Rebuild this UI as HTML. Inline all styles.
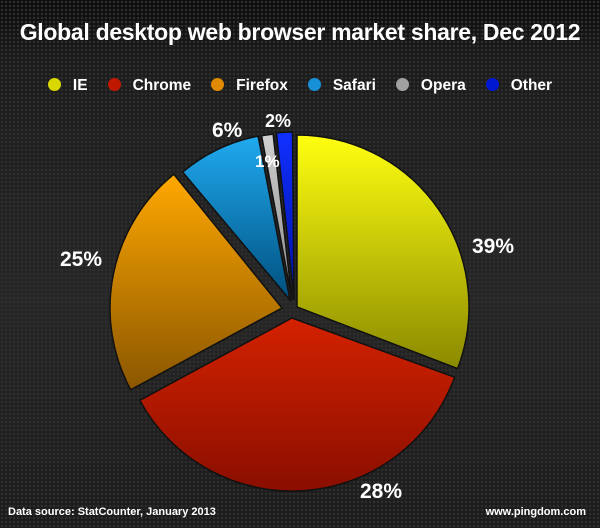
<!DOCTYPE html>
<html><head><meta charset="utf-8"><style>
html,body{margin:0;padding:0}
body{width:600px;height:528px;overflow:hidden;background:#1e1e1e;
background-image:radial-gradient(circle,#2e2e2e 1px,transparent 1.6px),linear-gradient(#0a0a0a 0,#1a1a1a 60px,#262626 300px,#1a1a1a 528px);
background-size:4px 4px,100% 100%;font-family:"Liberation Sans",sans-serif;position:relative}
.t{position:absolute;left:0;width:600px;text-align:center;top:19px;color:#fff;font-weight:bold;font-size:23px;letter-spacing:-0.3px}
.lg{position:absolute;top:77px;left:0;width:600px;text-align:center;color:#fff;font-weight:bold;font-size:15.5px}
.lg span{display:inline-block;margin:0 10px}
.lg i{display:inline-block;width:13px;height:13px;border-radius:50%;vertical-align:-1px;margin-right:12px}
.f{position:absolute;top:506px;color:#fff;font-weight:bold;font-size:11px}
</style></head><body>
<div class="t">Global desktop web browser market share, Dec 2012</div>
<div class="lg"><span><i style="background:#d8d800"></i>IE</span><span><i style="background:#c01800"></i>Chrome</span><span><i style="background:#e08a00"></i>Firefox</span><span><i style="background:#1890d8"></i>Safari</span><span><i style="background:#a0a0a0"></i>Opera</span><span><i style="background:#0018d0"></i>Other</span></div>
<svg id="s" width="600" height="528" style="position:absolute;left:0;top:0">
<defs>
<linearGradient id="gy" x1="0" y1="0" x2="0" y2="1"><stop offset="0" stop-color="#ffff10"/><stop offset="1" stop-color="#8a8a00"/></linearGradient>
<linearGradient id="gr" x1="0" y1="0" x2="0" y2="1"><stop offset="0" stop-color="#d42200"/><stop offset="1" stop-color="#8a0e00"/></linearGradient>
<linearGradient id="go" x1="0" y1="0" x2="0" y2="1"><stop offset="0" stop-color="#ffa800"/><stop offset="1" stop-color="#8a5600"/></linearGradient>
<linearGradient id="gb" x1="0" y1="0" x2="0" y2="1"><stop offset="0" stop-color="#20aaf0"/><stop offset="1" stop-color="#00507e"/></linearGradient>
<linearGradient id="gg" x1="0" y1="0" x2="0" y2="1"><stop offset="0" stop-color="#d0d0d0"/><stop offset="1" stop-color="#888"/></linearGradient>
<linearGradient id="gd" x1="0" y1="0" x2="0" y2="1"><stop offset="0" stop-color="#1030ff"/><stop offset="1" stop-color="#0010a0"/></linearGradient>
</defs>
<g id="p" stroke="#111" stroke-width="1.5"></g>
<g fill="#fff" font-weight="bold" font-size="21" font-family="Liberation Sans, sans-serif">
<text x="472" y="253">39%</text><text x="360" y="498">28%</text><text x="60" y="266">25%</text>
<text x="212" y="137">6%</text><text x="255" y="167" font-size="17">1%</text><text x="265" y="127" font-size="18">2%</text>
</g></svg>
<div class="f" style="left:8px">Data source: StatCounter, January 2013</div>
<div class="f" style="right:14px">www.pingdom.com</div>
<script>
var sl=[[297,307,172,0,111,'gy'],[292,318,173,110,241.6,'gr'],[282,308,172,241.6,321,'go'],[290,300,167,320,349,'gb'],[292,300,167,349.5,353.5,'gg'],[294,300,168,354,359.5,'gd']];
var h='';
sl.forEach(function(s){var cx=s[0],cy=s[1],r=s[2],a=s[3]*Math.PI/180,b=s[4]*Math.PI/180;
var x1=cx+r*Math.sin(a),y1=cy-r*Math.cos(a),x2=cx+r*Math.sin(b),y2=cy-r*Math.cos(b);
h+='<path fill="url(#'+s[5]+')" d="M'+cx+' '+cy+'L'+x1.toFixed(1)+' '+y1.toFixed(1)+'A'+r+' '+r+' 0 '+((s[4]-s[3])>180?1:0)+' 1 '+x2.toFixed(1)+' '+y2.toFixed(1)+'Z"/>';});
document.getElementById('p').innerHTML=h;
</script>
</body></html>
